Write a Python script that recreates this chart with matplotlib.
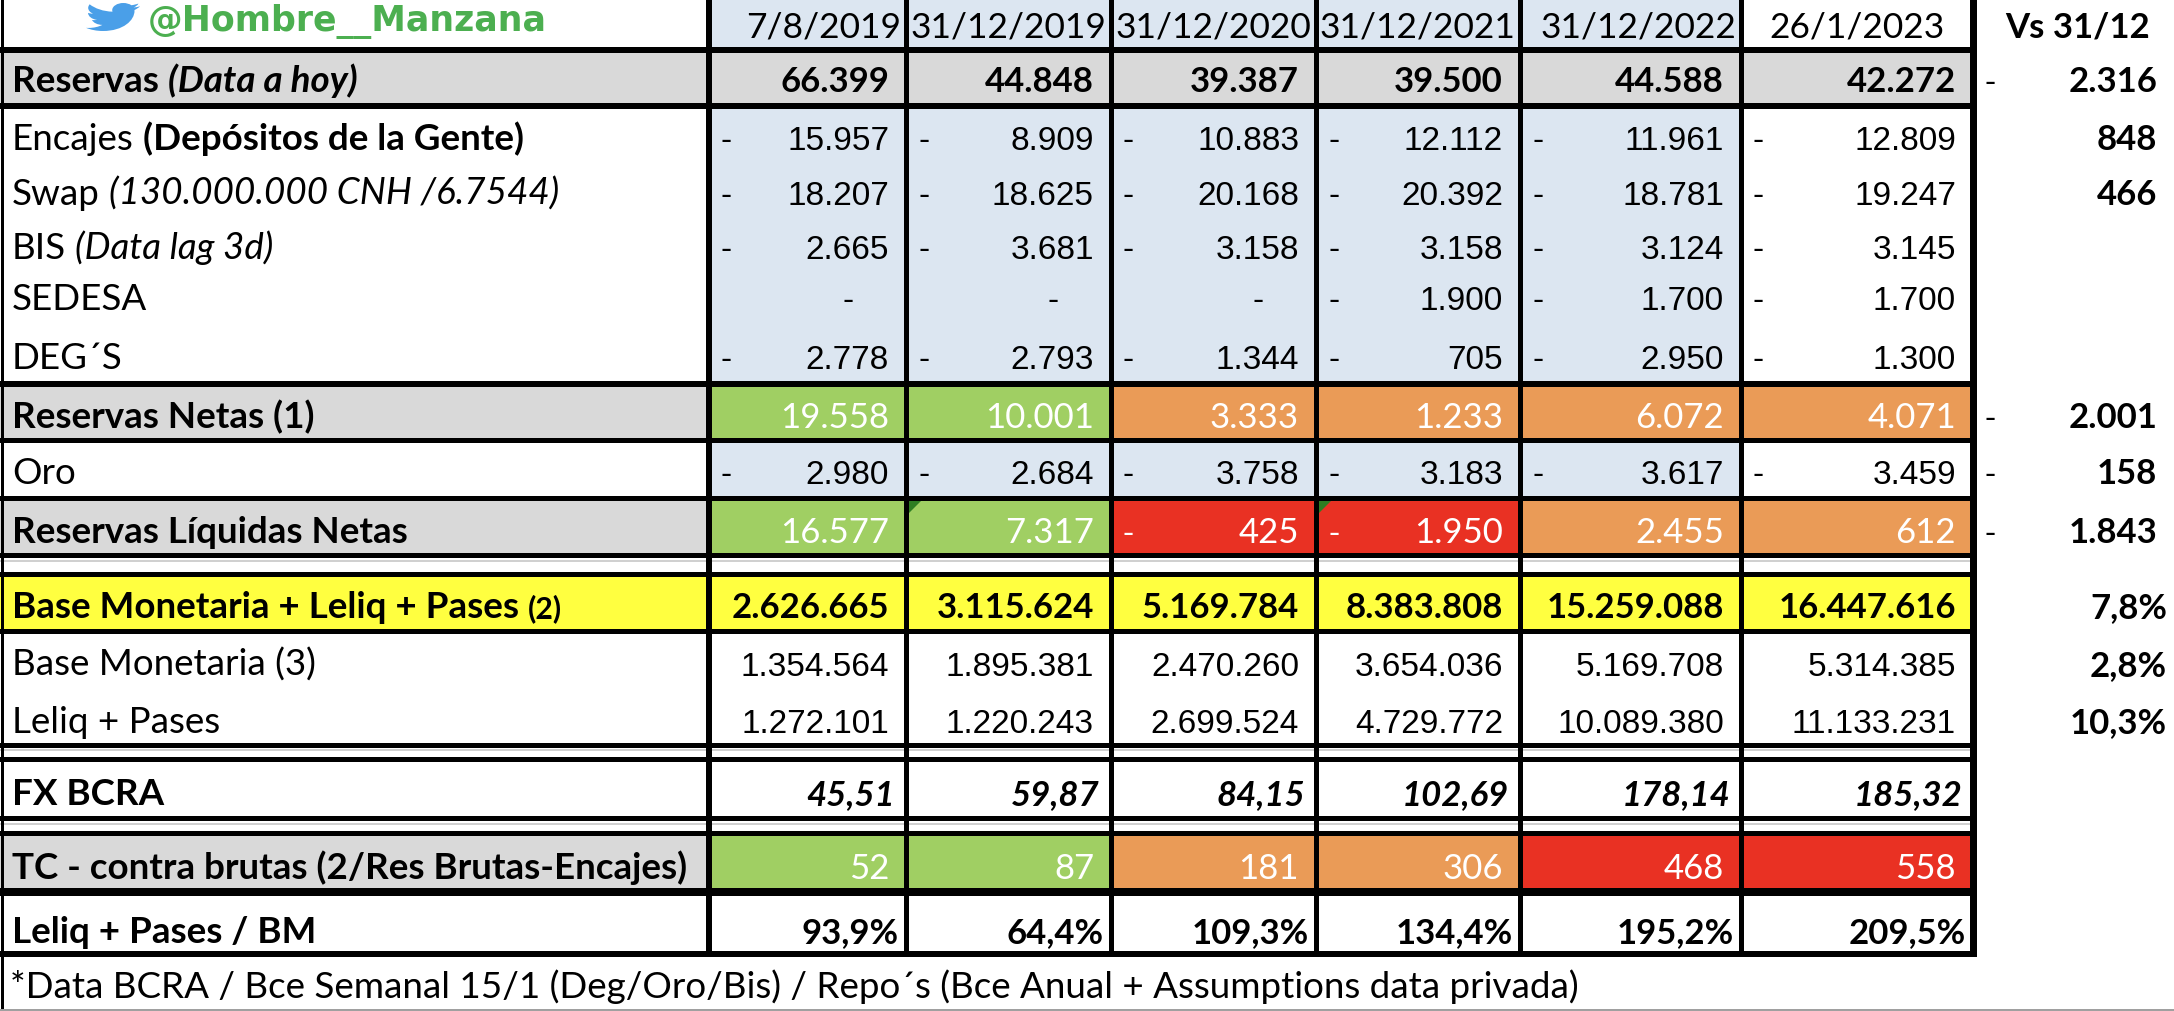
import re
import matplotlib
matplotlib.use("Agg")
import matplotlib.pyplot as plt
from matplotlib.patches import Rectangle, Polygon, PathPatch
from matplotlib.path import Path

# ---------------- DATA ----------------
handle = "@Hombre__Manzana"
dates = ["7/8/2019", "31/12/2019", "31/12/2020", "31/12/2021", "31/12/2022", "26/1/2023"]
vs_header = "Vs 31/12"

reservas = [66399, 44848, 39387, 39500, 44588, 42272]
encajes = [-15957, -8909, -10883, -12112, -11961, -12809]
swap = [-18207, -18625, -20168, -20392, -18781, -19247]
bis = [-2665, -3681, -3158, -3158, -3124, -3145]
sedesa = [0, 0, 0, -1900, -1700, -1700]
degs = [-2778, -2793, -1344, -705, -2950, -1300]
reservas_netas = [19558, 10001, 3333, 1233, 6072, 4071]
oro = [-2980, -2684, -3758, -3183, -3617, -3459]
reservas_liquidas = [16577, 7317, -425, -1950, 2455, 612]
base_leliq_pases = [2626665, 3115624, 5169784, 8383808, 15259088, 16447616]
base_monetaria = [1354564, 1895381, 2470260, 3654036, 5169708, 5314385]
leliq_pases = [1272101, 1220243, 2699524, 4729772, 10089380, 11133231]
fx_bcra = [45.51, 59.87, 84.15, 102.69, 178.14, 185.32]
tc_brutas = [52, 87, 181, 306, 468, 558]
leliq_bm_pct = [93.9, 64.4, 109.3, 134.4, 195.2, 209.5]

vs_usd_rows = ["reservas", "encajes", "swap", "netas", "oro", "liq"]
vs_usd = [-2316, 848, 466, -2001, -158, -1843]
vs_pct_rows = ["yellow", "bm", "leliq"]
vs_pct = [7.8, 2.8, 10.3]

netas_status = ["g", "g", "o", "o", "o", "o"]
liq_status = ["g", "g", "r", "r", "o", "o"]
tc_status = ["g", "g", "o", "o", "r", "r"]
liq_flags = [False, True, False, True, False, False]

footer = "*Data BCRA / Bce Semanal 15/1 (Deg/Oro/Bis) / Repo\u00b4s (Bce Anual + Assumptions data privada)"

labels = {
    "reservas": [("Reservas", "bold", "normal", 1.0), ("(Data a hoy)", "bold", "italic", 1.0)],
    "encajes": [("Encajes", "normal", "normal", 1.0), ("(Dep\u00f3sitos de la Gente)", "bold", "normal", 1.0)],
    "swap": [("Swap", "normal", "normal", 1.0), ("(130.000.000 CNH /6.7544)", "normal", "italic", 1.0)],
    "bis": [("BIS", "normal", "normal", 1.0), ("(Data lag 3d)", "normal", "italic", 1.0)],
    "sedesa": [("SEDESA", "normal", "normal", 1.0)],
    "degs": [("DEG\u00b4S", "normal", "normal", 1.0)],
    "netas": [("Reservas Netas (1)", "bold", "normal", 1.0)],
    "oro": [("Oro", "normal", "normal", 1.0)],
    "liq": [("Reservas L\u00edquidas Netas", "bold", "normal", 1.0)],
    "yellow": [("Base Monetaria + Leliq + Pases", "bold", "normal", 1.0), ("(2)", "bold", "normal", 0.82)],
    "bm": [("Base Monetaria (3)", "normal", "normal", 1.0)],
    "leliq": [("Leliq + Pases", "normal", "normal", 1.0)],
    "fx": [("FX BCRA", "bold", "normal", 1.0)],
    "tc": [("TC - contra brutas (2/Res Brutas-Encajes)", "bold", "normal", 1.0)],
    "lbm": [("Leliq + Pases / BM", "bold", "normal", 1.0)],
}

# ---------------- LAYOUT / STYLE ----------------
W, H = 2174, 1012
BLUE = "#DCE6F1"
GREY = "#D9D9D9"
GREEN = "#A0CF63"
ORANGE = "#EA9B57"
RED = "#E93123"
YELLOW = "#FFFF40"
STATUS = {"g": GREEN, "o": ORANGE, "r": RED}

LABEL_FONT = "Lato"
NUM_FONT = "Liberation Sans"
FS = 26.5      # row label font size (pt)
HFS = 25.5     # header dates
VFS = 25.0     # Lato numbers
NFS = 24.0     # arial-like numbers

col_x = [709, 906, 1111, 1316, 1520, 1741, 1973]
baseline = {
    "header": 37, "reservas": 92, "encajes": 150, "swap": 205, "bis": 259,
    "sedesa": 310, "degs": 369, "netas": 428, "oro": 484, "liq": 543,
    "yellow": 618, "bm": 676, "leliq": 733, "fx": 805, "tc": 879,
    "lbm": 943, "footer": 998,
}

fig = plt.figure(figsize=(W / 100, H / 100), dpi=100)
ax = fig.add_axes([0, 0, 1, 1])
ax.set_xlim(0, W)
ax.set_ylim(H, 0)
ax.axis("off")
renderer = fig.canvas.get_renderer()


def rect(x0, y0, x1, y1, color, z=1):
    ax.add_patch(Rectangle((x0, y0), x1 - x0, y1 - y0, facecolor=color,
                           edgecolor="none", zorder=z))


def fill_row(y0, y1, label_color, cell_colors):
    rect(0, y0, col_x[0], y1, label_color)
    for i, c in enumerate(cell_colors):
        rect(col_x[i], y0, col_x[i + 1], y1, c)


blue_cols = [BLUE] * 5 + ["white"]
# backgrounds
fill_row(0, 51, "white", blue_cols)
fill_row(51, 107, GREY, [GREY] * 6)
fill_row(107, 385, "white", blue_cols)
fill_row(385, 441, GREY, [STATUS[s] for s in netas_status])
fill_row(441, 499, "white", blue_cols)
fill_row(499, 556, GREY, [STATUS[s] for s in liq_status])
fill_row(556, 575, "white", ["white"] * 6)
fill_row(575, 632, YELLOW, [YELLOW] * 6)
fill_row(632, 746, "white", ["white"] * 6)
fill_row(819, 834, "white", ["white"] * 6)
fill_row(834, 894, GREY, [STATUS[s] for s in tc_status])


# horizontal borders
def hline(y, t, x0=0, x1=col_x[-1] + 3, color="black"):
    rect(x0, y - t / 2, x1, y + t / 2, color, z=3)


for y, t in [(51, 6), (107, 6), (385, 6), (441, 5), (499, 5), (556, 5),
             (575, 5), (632, 5), (746, 5), (760, 5), (819, 5), (834, 5),
             (893, 8), (955, 6)]:
    hline(y, t)
for y in [562, 751, 825]:
    hline(y, 1.2, color="#D0D0D0")

# vertical borders
rect(1, 0, 4, H, "black", z=3)
rect(col_x[0] - 3, 0, col_x[0] + 3, 958, "black", z=3)
for x in col_x[1:-1]:
    rect(x - 2.5, 0, x + 2.5, 958, "black", z=3)
rect(col_x[-1] - 3, 0, col_x[-1] + 4, 958, "black", z=3)
hline(H - 1, 2, x0=0, x1=W, color="#A0A0A0")

# error-indicator triangles
for i, flag in enumerate(liq_flags):
    if flag:
        x0 = col_x[i] + 3
        ax.add_patch(Polygon([(x0, 502), (x0 + 12, 502), (x0, 514)], closed=True,
                             facecolor="#2E7D22", edgecolor="none", zorder=4))


def text_width(t):
    bb = t.get_window_extent(renderer)
    inv = ax.transData.inverted()
    return inv.transform((bb.x1, 0))[0] - inv.transform((bb.x0, 0))[0]


def draw_label(key):
    x = 12
    y = baseline[key]
    space = 9
    for txt, weight, style, scale in labels[key]:
        t = ax.text(x, y, txt, fontsize=FS * scale, fontweight=weight, fontstyle=style,
                    family=LABEL_FONT, ha="left", va="baseline", zorder=5)
        x += text_width(t) + space


def fmt_int(v):
    return f"{abs(v):,}".replace(",", ".")


def fmt_dec(v):
    return f"{v:.2f}".replace(".", ",")


def fmt_pct(v):
    return f"{v:.1f}%".replace(".", ",")


def draw_cells(key, values, kind="int", family=LABEL_FONT, size=VFS, weight="normal",
               style="normal", color="black", pad=17):
    y = baseline[key]
    for i, v in enumerate(values):
        left, right = col_x[i], col_x[i + 1]
        if kind == "int":
            s = fmt_int(v)
            if v < 0:
                ax.text(left + 12, y, "-", family=NUM_FONT, fontsize=NFS, color=color,
                        ha="left", va="baseline", zorder=5)
            if v == 0:
                ax.text(right - 52, y, "-", family=NUM_FONT, fontsize=NFS, color=color,
                        ha="right", va="baseline", zorder=5)
                continue
        elif kind == "dec":
            s = fmt_dec(v)
        else:
            s = fmt_pct(v)
        ax.text(right - pad, y, s, family=family, fontsize=size, fontweight=weight,
                fontstyle=style, color=color, ha="right", va="baseline", zorder=5)


# header
for i, d in enumerate(dates):
    if i < 5:
        ax.text(col_x[i + 1] - 5, baseline["header"], d, family=LABEL_FONT, fontsize=HFS,
                ha="right", va="baseline", zorder=5)
    else:
        ax.text((col_x[i] + col_x[i + 1]) / 2, baseline["header"], d, family=LABEL_FONT,
                fontsize=HFS, ha="center", va="baseline", zorder=5)
ax.text((col_x[-1] + W) / 2 + 4, baseline["header"], vs_header, family=LABEL_FONT,
        fontsize=VFS, fontweight="bold", ha="center", va="baseline", zorder=5)

# twitter handle + bird
ax.text(148, 31, handle, family="DejaVu Sans", fontsize=25, fontweight="bold",
        color="#4CAF50", ha="left", va="baseline", zorder=5)

bird_svg = ("M23.954 4.569c-.885.389-1.83.654-2.825.775 1.014-.611 1.794-1.574 2.163-2.723"
            "-.951.555-2.005.959-3.127 1.184-.896-.959-2.173-1.559-3.591-1.559-2.717 0-4.92 "
            "2.203-4.92 4.917 0 .39.045.765.127 1.124C7.691 8.094 4.066 6.13 1.64 3.161c-.427"
            ".722-.666 1.561-.666 2.475 0 1.71.87 3.213 2.188 4.096-.807-.026-1.566-.248-2.228"
            "-.616v.061c0 2.385 1.693 4.374 3.946 4.827-.413.111-.849.171-1.296.171-.314 0-.615"
            "-.03-.916-.086.631 1.953 2.445 3.377 4.604 3.417-1.68 1.319-3.809 2.105-6.102 "
            "2.105-.39 0-.779-.023-1.17-.067 2.189 1.394 4.768 2.209 7.557 2.209 9.054 0 "
            "13.999-7.496 13.999-13.986 0-.209 0-.42-.015-.63.961-.689 1.8-1.56 2.46-2.548l"
            "-.047-.02z")


def parse_svg(d):
    toks = re.findall(r"[A-Za-z]|[-+]?(?:\d+\.\d*|\.\d+|\d+)", d)
    verts, codes = [], []
    i = 0
    cmd = None
    cur = (0.0, 0.0)
    start = cur
    while i < len(toks):
        t = toks[i]
        if t.isalpha():
            cmd = t
            i += 1
            if cmd in "zZ":
                verts.append(start)
                codes.append(Path.CLOSEPOLY)
                cur = start
            continue
        if cmd in "Mm":
            x, y = float(toks[i]), float(toks[i + 1]); i += 2
            cur = (x, y) if cmd == "M" else (cur[0] + x, cur[1] + y)
            start = cur
            verts.append(cur); codes.append(Path.MOVETO)
            cmd = "L" if cmd == "M" else "l"
        elif cmd in "Cc":
            nums = [float(v) for v in toks[i:i + 6]]; i += 6
            pts = [(nums[0], nums[1]), (nums[2], nums[3]), (nums[4], nums[5])]
            if cmd == "c":
                pts = [(cur[0] + a, cur[1] + b) for a, b in pts]
            verts += pts; codes += [Path.CURVE4] * 3
            cur = pts[-1]
        elif cmd in "Ll":
            x, y = float(toks[i]), float(toks[i + 1]); i += 2
            cur = (x, y) if cmd == "L" else (cur[0] + x, cur[1] + y)
            verts.append(cur); codes.append(Path.LINETO)
        elif cmd in "Vv":
            y = float(toks[i]); i += 1
            cur = (cur[0], y) if cmd == "V" else (cur[0], cur[1] + y)
            verts.append(cur); codes.append(Path.LINETO)
        elif cmd in "Hh":
            x = float(toks[i]); i += 1
            cur = (x, cur[1]) if cmd == "H" else (cur[0] + x, cur[1])
            verts.append(cur); codes.append(Path.LINETO)
        else:
            i += 1
    return verts, codes


bv, bc = parse_svg(bird_svg)
xs = [v[0] for v in bv]
ys = [v[1] for v in bv]
bx0, bx1, by0, by1 = 86, 140, 4, 32
mx0, mx1, my0, my1 = min(xs), max(xs), min(ys), max(ys)
bv2 = [(bx0 + (x - mx0) / (mx1 - mx0) * (bx1 - bx0),
        by0 + (y - my0) / (my1 - my0) * (by1 - by0)) for x, y in bv]
ax.add_patch(PathPatch(Path(bv2, bc), facecolor="#4A9FE8", edgecolor="none", zorder=5))

# labels
for key in labels:
    draw_label(key)

# values
draw_cells("reservas", reservas, weight="bold")
draw_cells("encajes", encajes, family=NUM_FONT, size=NFS)
draw_cells("swap", swap, family=NUM_FONT, size=NFS)
draw_cells("bis", bis, family=NUM_FONT, size=NFS)
draw_cells("sedesa", sedesa, family=NUM_FONT, size=NFS)
draw_cells("degs", degs, family=NUM_FONT, size=NFS)
draw_cells("netas", reservas_netas, color="white")
draw_cells("oro", oro, family=NUM_FONT, size=NFS)
draw_cells("liq", reservas_liquidas, color="white")
draw_cells("yellow", base_leliq_pases, weight="bold")
draw_cells("bm", base_monetaria, family=NUM_FONT, size=NFS)
draw_cells("leliq", leliq_pases, family=NUM_FONT, size=NFS)
draw_cells("fx", fx_bcra, kind="dec", weight="bold", style="italic", pad=11)
draw_cells("tc", tc_brutas, color="white")
draw_cells("lbm", leliq_bm_pct, kind="pct", weight="bold", pad=7)

# Vs 31/12 column
vx_right = 2157
for key, v in zip(vs_usd_rows, vs_usd):
    y = baseline[key]
    if v < 0:
        ax.text(1984, y, "-", family=NUM_FONT, fontsize=NFS, ha="left", va="baseline", zorder=5)
    ax.text(vx_right, y, fmt_int(v), family=LABEL_FONT, fontsize=VFS, fontweight="bold",
            ha="right", va="baseline", zorder=5)
for key, v in zip(vs_pct_rows, vs_pct):
    ax.text(2167, baseline[key], fmt_pct(v), family=LABEL_FONT, fontsize=VFS,
            fontweight="bold", ha="right", va="baseline", zorder=5)

# footer
ax.text(10, baseline["footer"], footer, family=LABEL_FONT, fontsize=FS, ha="left",
        va="baseline", zorder=5)

fig.savefig("out.png", dpi=100)
